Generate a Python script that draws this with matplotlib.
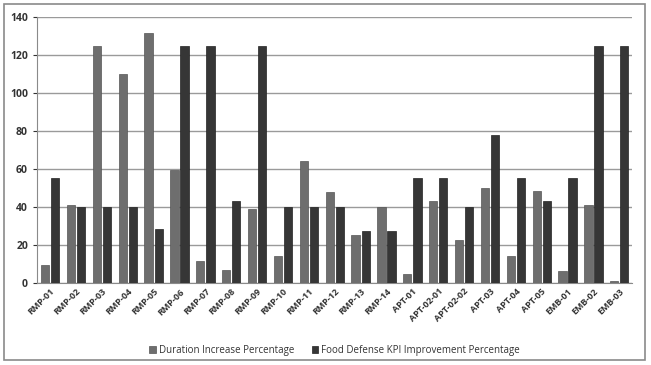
import numpy as np
import matplotlib.pyplot as plt
from matplotlib.patches import Rectangle

plt.rcParams['font.family'] = ['Open Sans', 'DejaVu Sans']

sites = ['RMP-01', 'RMP-02', 'RMP-03', 'RMP-04', 'RMP-05', 'RMP-06', 'RMP-07',
         'RMP-08', 'RMP-09', 'RMP-10', 'RMP-11', 'RMP-12', 'RMP-13', 'RMP-14',
         'APT-01', 'APT-02-01', 'APT-02-02', 'APT-03', 'APT-04', 'APT-05',
         'EMB-01', 'EMB-02', 'EMB-03']
duration = [9.3, 41, 125, 110, 131.5, 59.5, 11.5, 6.8, 39, 14, 64, 48, 25,
            40, 4.6, 43, 22.5, 50, 14, 48.5, 6, 41, 1]
food_kpi = [55.3, 40, 40, 40, 28.6, 125, 125, 43, 125, 40, 40, 40, 27.3,
            27.3, 55.3, 55.3, 40, 78, 55.3, 43, 55.3, 125, 125]

fig = plt.figure(figsize=(6.51, 3.65), dpi=100)
fig.patches.append(Rectangle((0.006, 0.015), 0.985, 0.975, transform=fig.transFigure,
                             fill=False, edgecolor='#8a8a8a', linewidth=1.2))
ax = fig.add_axes([0.057, 0.225, 0.914, 0.728])

x = np.arange(len(sites))
w = 0.32
ax.bar(x - 0.19, duration, w, color='#6e6e6e', edgecolor='#555555', linewidth=0.5,
       label='Duration Increase Percentage', zorder=3)
ax.bar(x + 0.2, food_kpi, w, color='#363636', edgecolor='#222222', linewidth=0.5,
       label='Food Defense KPI Improvement Percentage', zorder=3)

ax.set_xlim(-0.5, len(sites) - 0.5)
ax.set_ylim(0, 140)
ax.set_yticks(range(0, 141, 20))
ax.yaxis.grid(True, color='#9a9a9a', linewidth=1.0, zorder=0)
ax.set_xticks(x)
ax.set_xticklabels(sites, rotation=45, ha='right', rotation_mode='anchor',
                   fontsize=6.5, fontweight='bold', color='#333333')
ax.tick_params(axis='y', labelsize=7.5, length=3, colors='#333333')
for lab in ax.get_yticklabels():
    lab.set_fontweight('bold')
ax.tick_params(axis='x', length=0, pad=3)
for s in ['top', 'right']:
    ax.spines[s].set_visible(False)
ax.spines['left'].set_color('#8a8a8a')
ax.spines['bottom'].set_color('#8a8a8a')

leg = ax.legend(loc='upper center', bbox_to_anchor=(0.5, -0.2), ncol=2, frameon=False,
                fontsize=7, handlelength=0.7, handleheight=0.7, handletextpad=0.3,
                columnspacing=1.8)
for t in leg.get_texts():
    t.set_color('#333333')

fig.savefig('out.png', dpi=100)
